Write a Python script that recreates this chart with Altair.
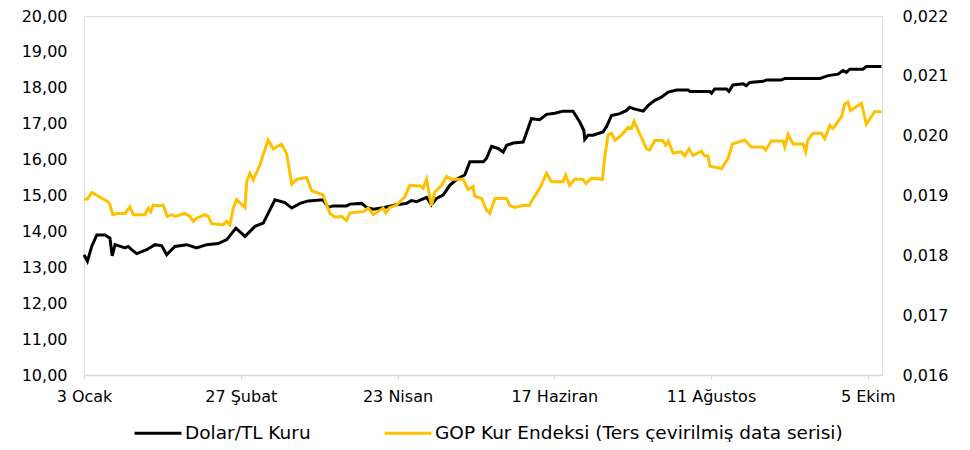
import altair as alt
import pandas as pd

# Day offsets from 3 Ocak and values
usd_days = [0, 1.2, 2.7, 4.5, 7.4, 9.1, 9.9, 10.9, 14.4, 15.5, 16.7, 18.5, 22.0, 24.9, 27.3, 29.0,
            31.9, 36.0, 39.5, 43.0, 47.1, 50.1, 53.3, 56.5, 60.0, 62.9, 67.0, 70.5, 72.9, 75.8,
            78.7, 83.9, 85.7, 87.4, 92.1, 93.3, 97.4, 99.2, 101.5, 105.0, 109.7, 113.2, 114.9,
            116.7, 120.2, 121.9, 123.7, 126.0, 128.4, 131.3, 133.6, 135.4, 140.1, 141.2, 143.0,
            145.3, 147.1, 148.3, 150.6, 154.1, 157.0, 159.9, 162.3, 165.2, 168.1, 171.6, 174.0,
            175.4, 175.7, 176.9, 178.6, 182.1, 183.3, 185.1, 188.0, 190.4, 191.5, 192.7, 196.2,
            198.0, 200.3, 202.6, 205.0, 207.9, 212.0, 212.6, 219.6, 220.2, 221.3, 225.4, 226.3,
            227.7, 231.3, 232.4, 233.6, 238.3, 239.5, 244.7, 245.9, 258.2, 261.1, 264.6, 266.3,
            267.5, 268.7, 273.3, 274.5, 279.8]
usd_vals = [13.35, 13.17, 13.58, 13.90, 13.90, 13.81, 13.32, 13.63, 13.54, 13.58, 13.49, 13.38,
            13.49, 13.63, 13.60, 13.35, 13.58, 13.63, 13.54, 13.63, 13.66, 13.77, 14.09, 13.86,
            14.14, 14.23, 14.88, 14.80, 14.65, 14.78, 14.85, 14.88, 14.67, 14.71, 14.71, 14.76,
            14.78, 14.67, 14.62, 14.66, 14.74, 14.78, 14.86, 14.83, 14.95, 14.74, 14.92, 15.01,
            15.29, 15.48, 15.57, 15.94, 15.94, 16.03, 16.37, 16.31, 16.21, 16.40, 16.46, 16.49,
            17.14, 17.11, 17.26, 17.29, 17.35, 17.35, 17.04, 16.81, 16.56, 16.68, 16.68, 16.77,
            16.91, 17.23, 17.28, 17.37, 17.46, 17.42, 17.35, 17.51, 17.65, 17.74, 17.88, 17.94,
            17.94, 17.90, 17.90, 17.85, 17.97, 17.97, 17.90, 18.08, 18.11, 18.06, 18.15, 18.18,
            18.22, 18.22, 18.26, 18.26, 18.34, 18.38, 18.48, 18.43, 18.52, 18.52, 18.59, 18.59]

gop_days = [0, 1.2, 2.7, 3.9, 5.6, 8.0, 8.9, 10.1, 11.5, 14.4, 16.1, 17.3, 21.4, 22.6, 23.4, 24.3,
            26.1, 27.8, 29.2, 30.8, 31.9, 35.4, 37.2, 38.3, 39.5, 42.4, 43.6, 44.8, 48.9, 50.0,
            51.2, 52.4, 53.5, 56.5, 57.1, 58.2, 59.4, 61.7, 64.6, 66.4, 69.3, 71.1, 72.9, 74.6,
            78.1, 79.9, 83.9, 86.3, 88.0, 90.4, 92.1, 93.3, 98.0, 99.7, 101.5, 105.0, 105.9,
            107.3, 109.7, 112.6, 114.3, 117.9, 119.0, 120.2, 121.9, 123.1, 125.5, 127.2, 129.0,
            133.0, 134.8, 136.5, 137.1, 139.5, 141.2, 142.4, 144.2, 148.3, 149.4, 151.2, 154.7,
            156.2, 157.0, 159.9, 162.3, 164.0, 168.1, 169.0, 170.4, 172.2, 175.1, 176.1, 178.1,
            181.9, 182.7, 183.9, 185.1, 186.3, 188.6, 190.9, 192.1, 193.0, 195.0, 197.4, 198.5,
            200.3, 203.0, 204.1, 205.0, 206.7, 209.6, 210.8, 212.3, 213.7, 216.7, 217.8, 219.0,
            219.6, 223.7, 226.0, 227.5, 231.8, 234.2, 238.3, 239.2, 241.2, 245.3, 245.9, 247.0,
            248.8, 252.3, 253.2, 254.0, 255.8, 258.7, 259.9, 261.7, 262.8, 265.8, 266.9, 268.1,
            268.9, 272.8, 274.5, 277.4, 279.8]
gop_vals = [0.01894, 0.01894, 0.01905, 0.01902, 0.01897, 0.01891, 0.01887, 0.01868, 0.01870,
            0.01870, 0.01881, 0.01868, 0.01868, 0.01879, 0.01873, 0.01884, 0.01883, 0.01884,
            0.01865, 0.01868, 0.01865, 0.01870, 0.01865, 0.01857, 0.01862, 0.01868, 0.01865,
            0.01853, 0.01851, 0.01857, 0.01851, 0.01879, 0.01893, 0.01880, 0.01923, 0.01937,
            0.01926, 0.01951, 0.01993, 0.01978, 0.01986, 0.01970, 0.01919, 0.01927, 0.01930,
            0.01908, 0.01901, 0.01870, 0.01864, 0.01865, 0.01858, 0.01871, 0.01873, 0.01879,
            0.01868, 0.01879, 0.01871, 0.01880, 0.01884, 0.01898, 0.01917, 0.01916, 0.01912,
            0.01927, 0.01883, 0.01906, 0.01917, 0.01932, 0.01927, 0.01927, 0.01910, 0.01915,
            0.01899, 0.01895, 0.01876, 0.01870, 0.01895, 0.01895, 0.01883, 0.01880, 0.01884,
            0.01883, 0.01890, 0.01912, 0.01937, 0.01923, 0.01923, 0.01934, 0.01917, 0.01927,
            0.01927, 0.01920, 0.01929, 0.01927, 0.01964, 0.02001, 0.02004, 0.01992, 0.02001,
            0.02014, 0.02012, 0.02024, 0.02003, 0.01978, 0.01976, 0.01992, 0.01992, 0.01984,
            0.01991, 0.01971, 0.01973, 0.01966, 0.01978, 0.01967, 0.01974, 0.01966, 0.01966,
            0.01949, 0.01945, 0.01962, 0.01986, 0.01993, 0.01981, 0.01981, 0.01976, 0.01991,
            0.01991, 0.01981, 0.02002, 0.01986, 0.01986, 0.01973, 0.01993, 0.02004, 0.02004,
            0.01995, 0.02017, 0.02012, 0.02032, 0.02053, 0.02056, 0.02042, 0.02054, 0.02019,
            0.02040, 0.02040]

tick_days = [0, 55, 110, 165, 220, 275]
tick_labels = ["3 Ocak", "27 Şubat", "23 Nisan", "17 Haziran", "11 Ağustos", "5 Ekim"]
series_names = ["Dolar/TL Kuru", "GOP Kur Endeksi (Ters çevirilmiş data serisi)"]
series_colors = ["#000000", "#FFC000"]

FONT = "DejaVu Sans"

usd = pd.DataFrame({"day": usd_days, "value": usd_vals, "series": series_names[0]})
gop = pd.DataFrame({"day": gop_days, "value": gop_vals, "series": series_names[1]})

label_arr = "[" + ",".join("'" + t + "'" for t in tick_labels) + "]"

x_enc = alt.X(
    "day:Q",
    scale=alt.Scale(domain=[0, 280], nice=False, zero=False),
    axis=alt.Axis(
        title=None, values=tick_days, grid=False,
        labelExpr=f"{label_arr}[round(datum.value/55)]",
        domainColor="#d9d9d9", domainWidth=1.3, tickColor="#d9d9d9", tickSize=4,
        labelPadding=9, labelFontSize=16, labelFont=FONT, labelColor="#000000",
        labelFlush=False,
    ),
)

color_enc = alt.Color(
    "series:N",
    scale=alt.Scale(domain=series_names, range=series_colors),
    legend=alt.Legend(
        title=None, orient="none", direction="horizontal", legendX=49, legendY=392,
        symbolType="stroke", symbolSize=2209, symbolStrokeWidth=3,
        labelFontSize=18.5, labelFont=FONT, labelColor="#000000", labelOffset=2,
        columnPadding=67, labelLimit=0,
    ),
)

left = alt.Chart(usd).mark_line(strokeWidth=3, interpolate="linear").encode(
    x=x_enc,
    y=alt.Y("value:Q", scale=alt.Scale(domain=[10, 20], nice=False, zero=False),
            axis=alt.Axis(title=None, values=list(range(10, 21)), grid=False, domain=False,
                          ticks=False, labelPadding=17, labelFontSize=16, labelFont=FONT,
                          labelColor="#000000",
                          labelExpr="replace(format(datum.value, '.2f'), '.', ',')")),
    color=color_enc,
)

right = alt.Chart(gop).mark_line(strokeWidth=3, interpolate="linear").encode(
    x=x_enc,
    y=alt.Y("value:Q", scale=alt.Scale(domain=[0.016, 0.022], nice=False, zero=False),
            axis=alt.Axis(title=None, orient="right",
                          values=[0.016, 0.017, 0.018, 0.019, 0.020, 0.021, 0.022],
                          grid=False, domain=False, ticks=False, labelPadding=20,
                          labelFontSize=16, labelFont=FONT, labelColor="#000000",
                          labelExpr="replace(format(datum.value, '.3f'), '.', ',')")),
    color=color_enc,
)

chart = alt.layer(left, right).resolve_scale(y="independent").properties(
    width=798, height=359,
    autosize=alt.AutoSizeParams(type="none"),
    padding={"left": 76, "top": 8, "right": 80, "bottom": 67},
).configure_view(stroke=None).configure(background="#ffffff")

chart.save("out.html", embed_options={"renderer": "svg", "actions": False})
